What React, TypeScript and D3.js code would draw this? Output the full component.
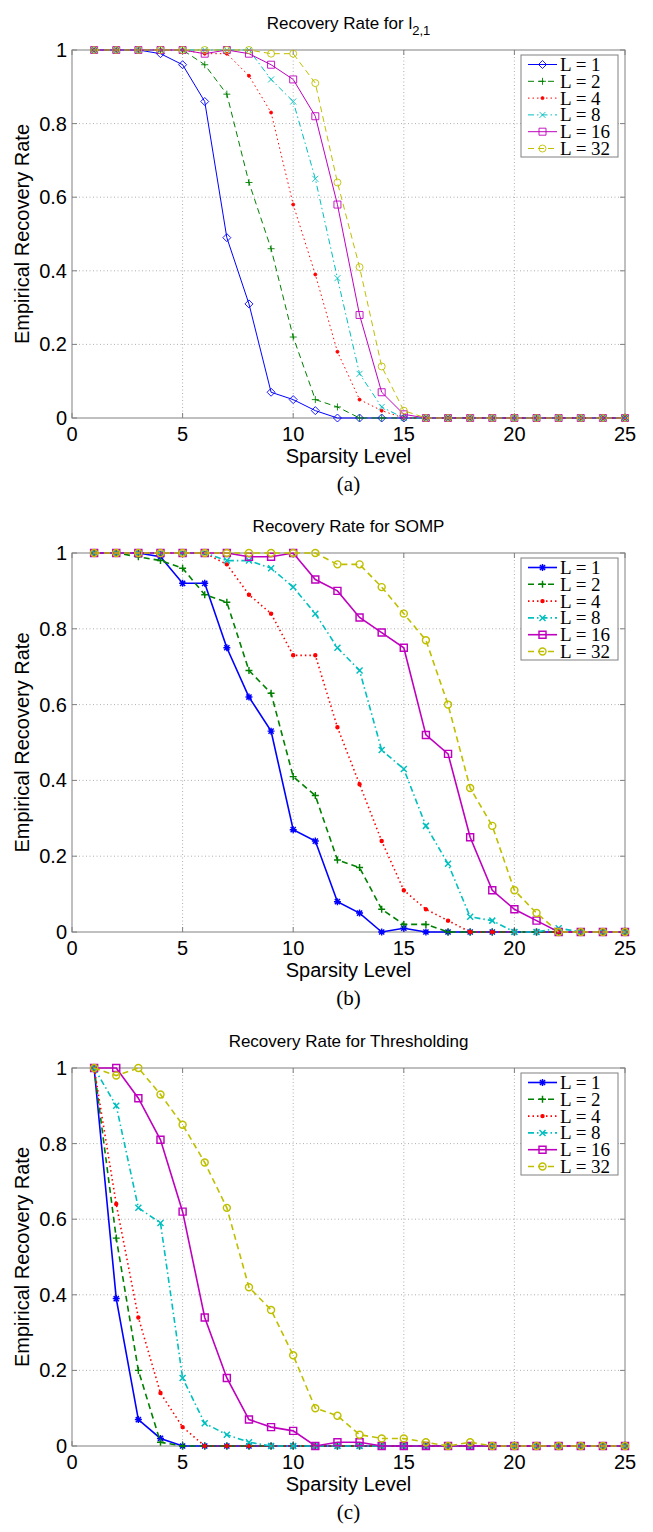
import * as d3 from 'd3';

// sparsity level (x axis) and the six row-count settings
const sparsityLevels = [1, 2, 3, 4, 5, 6, 7, 8, 9, 10, 11, 12, 13, 14, 15, 16, 17, 18, 19, 20, 21, 22, 23, 24, 25];
const legendLabels = ['L = 1', 'L = 2', 'L = 4', 'L = 8', 'L = 16', 'L = 32'];
const xTicks = [0, 5, 10, 15, 20, 25];
const yTicks = [0, 0.2, 0.4, 0.6, 0.8, 1];
const yTickLabels = ['0', '0.2', '0.4', '0.6', '0.8', '1'];

// (a) l2,1
const l21L1 = [1, 1, 1, 0.99, 0.96, 0.86, 0.49, 0.31, 0.07, 0.05, 0.02, 0, 0, 0, 0, 0, 0, 0, 0, 0, 0, 0, 0, 0, 0];
const l21L2 = [1, 1, 1, 1, 1, 0.96, 0.88, 0.64, 0.46, 0.22, 0.05, 0.03, 0, 0, 0, 0, 0, 0, 0, 0, 0, 0, 0, 0, 0];
const l21L4 = [1, 1, 1, 1, 1, 0.99, 0.99, 0.93, 0.83, 0.58, 0.39, 0.18, 0.05, 0.02, 0, 0, 0, 0, 0, 0, 0, 0, 0, 0, 0];
const l21L8 = [1, 1, 1, 1, 1, 1, 1, 1, 0.92, 0.86, 0.65, 0.38, 0.12, 0.03, 0, 0, 0, 0, 0, 0, 0, 0, 0, 0, 0];
const l21L16 = [1, 1, 1, 1, 1, 0.99, 1, 0.99, 0.96, 0.92, 0.82, 0.58, 0.28, 0.07, 0.01, 0, 0, 0, 0, 0, 0, 0, 0, 0, 0];
const l21L32 = [1, 1, 1, 1, 1, 1, 1, 1, 0.99, 0.99, 0.91, 0.64, 0.41, 0.14, 0.02, 0, 0, 0, 0, 0, 0, 0, 0, 0, 0];

// (b) SOMP
const sompL1 = [1, 1, 1, 0.99, 0.92, 0.92, 0.75, 0.62, 0.53, 0.27, 0.24, 0.08, 0.05, 0, 0.01, 0, 0, 0, 0, 0, 0, 0, 0, 0, 0];
const sompL2 = [1, 1, 0.99, 0.98, 0.96, 0.89, 0.87, 0.69, 0.63, 0.41, 0.36, 0.19, 0.17, 0.06, 0.02, 0.02, 0, 0, 0, 0, 0, 0, 0, 0, 0];
const sompL4 = [1, 1, 1, 1, 1, 1, 0.97, 0.89, 0.84, 0.73, 0.73, 0.54, 0.39, 0.24, 0.11, 0.06, 0.03, 0, 0, 0, 0, 0, 0, 0, 0];
const sompL8 = [1, 1, 1, 1, 1, 1, 0.98, 0.98, 0.96, 0.91, 0.84, 0.75, 0.69, 0.48, 0.43, 0.28, 0.18, 0.04, 0.03, 0, 0, 0.01, 0, 0, 0];
const sompL16 = [1, 1, 1, 1, 1, 1, 1, 0.99, 0.99, 1, 0.93, 0.9, 0.83, 0.79, 0.75, 0.52, 0.47, 0.25, 0.11, 0.06, 0.03, 0, 0, 0, 0];
const sompL32 = [1, 1, 1, 1, 1, 1, 1, 1, 1, 1, 1, 0.97, 0.97, 0.91, 0.84, 0.77, 0.6, 0.38, 0.28, 0.11, 0.05, 0, 0, 0, 0];

// (c) Thresholding
const thrL1 = [1, 0.39, 0.07, 0.02, 0, 0, 0, 0, 0, 0, 0, 0, 0, 0, 0, 0, 0, 0, 0, 0, 0, 0, 0, 0, 0];
const thrL2 = [1, 0.55, 0.2, 0.01, 0, 0, 0, 0, 0, 0, 0, 0, 0, 0, 0, 0, 0, 0, 0, 0, 0, 0, 0, 0, 0];
const thrL4 = [1, 0.64, 0.34, 0.14, 0.05, 0, 0, 0, 0, 0, 0, 0, 0, 0, 0, 0, 0, 0, 0, 0, 0, 0, 0, 0, 0];
const thrL8 = [1, 0.9, 0.63, 0.59, 0.18, 0.06, 0.03, 0.01, 0, 0, 0, 0, 0, 0, 0, 0, 0, 0, 0, 0, 0, 0, 0, 0, 0];
const thrL16 = [1, 1, 0.92, 0.81, 0.62, 0.34, 0.18, 0.07, 0.05, 0.04, 0, 0.01, 0.01, 0, 0, 0, 0, 0, 0, 0, 0, 0, 0, 0, 0];
const thrL32 = [1, 0.98, 1, 0.93, 0.85, 0.75, 0.63, 0.42, 0.36, 0.24, 0.1, 0.08, 0.03, 0.02, 0.02, 0.01, 0, 0.01, 0, 0, 0, 0, 0, 0, 0];

const colors = ['#0000ff', '#008000', '#ff0000', '#00bfbf', '#bf00bf', '#bfbf00'];
const dashes = ['none', '6 4', '1.5 3', '6 3 1.5 3', 'none', '6 4'];

const W = 653;
const H = 1532;
const xLeft = 72;
const xRight = 625;

type Shape = 'diamond' | 'star' | 'plus' | 'dot' | 'cross' | 'square' | 'circle';

const markerPath = (shape: Shape, x: number, y: number) => {
  switch (shape) {
    case 'diamond':
      return `M${x},${y - 4}L${x + 4},${y}L${x},${y + 4}L${x - 4},${y}Z`;
    case 'plus':
      return `M${x - 3.5},${y}H${x + 3.5}M${x},${y - 3.5}V${y + 3.5}`;
    case 'cross':
      return `M${x - 3},${y - 3}L${x + 3},${y + 3}M${x + 3},${y - 3}L${x - 3},${y + 3}`;
    case 'star':
      return `M${x - 3.5},${y}H${x + 3.5}M${x},${y - 3.5}V${y + 3.5}M${x - 2.6},${y - 2.6}L${x + 2.6},${y + 2.6}M${x + 2.6},${y - 2.6}L${x - 2.6},${y + 2.6}`;
    case 'square':
      return `M${x - 3.5},${y - 3.5}h7v7h-7Z`;
    case 'circle':
      return `M${x - 3.5},${y}a3.5,3.5 0 1,0 7,0a3.5,3.5 0 1,0 -7,0Z`;
    case 'dot':
      return `M${x - 1.5},${y}a1.5,1.5 0 1,0 3,0a1.5,1.5 0 1,0 -3,0Z`;
  }
};

const panels = [
  {
    key: 'a', title: 'Recovery Rate for l', sub: '2,1', caption: '(a)', top: 50, bottom: 418, width: 1,
    shapes: ['diamond', 'plus', 'dot', 'cross', 'square', 'circle'] as Shape[],
    series: [l21L1, l21L2, l21L4, l21L8, l21L16, l21L32],
  },
  {
    key: 'b', title: 'Recovery Rate for SOMP', sub: '', caption: '(b)', top: 553, bottom: 932, width: 1.6,
    shapes: ['star', 'plus', 'dot', 'cross', 'square', 'circle'] as Shape[],
    series: [sompL1, sompL2, sompL4, sompL8, sompL16, sompL32],
  },
  {
    key: 'c', title: 'Recovery Rate for Thresholding', sub: '', caption: '(c)', top: 1068, bottom: 1446, width: 1.6,
    shapes: ['star', 'plus', 'dot', 'cross', 'square', 'circle'] as Shape[],
    series: [thrL1, thrL2, thrL4, thrL8, thrL16, thrL32],
  },
];

const sans = 'Liberation Sans, Arial, sans-serif';
const serif = 'Liberation Serif, Times New Roman, serif';

const Panel = ({ p }: { p: typeof panels[number] }) => {
  const x = d3.scaleLinear().domain([0, 25]).range([xLeft, xRight]);
  const y = d3.scaleLinear().domain([0, 1]).range([p.bottom, p.top]);
  const line = d3.line<number>().x((_, i) => x(sparsityLevels[i])).y((v) => y(v));
  const midX = (xLeft + xRight) / 2;
  const midY = (p.top + p.bottom) / 2;
  const legX = 521;
  const legTop = p.top + 5;
  const rowH = 16.8;

  return (
    <g>
      <text x={midX} y={p.top - 21} textAnchor="middle" fontFamily={sans} fontSize={17}>
        {p.title}
        {p.sub && <tspan dy={6} fontSize={13}>{p.sub}</tspan>}
      </text>

      {/* grid */}
      {xTicks.slice(1, -1).map((t) => (
        <line key={'gx' + t} x1={x(t)} x2={x(t)} y1={p.top} y2={p.bottom} stroke="#9a9a9a" strokeWidth={0.8} strokeDasharray="1 2.5" />
      ))}
      {yTicks.slice(1, -1).map((t) => (
        <line key={'gy' + t} x1={xLeft} x2={xRight} y1={y(t)} y2={y(t)} stroke="#9a9a9a" strokeWidth={0.8} strokeDasharray="1 2.5" />
      ))}

      {/* ticks inside the box */}
      {xTicks.map((t) => (
        <g key={'tx' + t} stroke="#808080">
          <line x1={x(t)} x2={x(t)} y1={p.bottom} y2={p.bottom - 5} />
          <line x1={x(t)} x2={x(t)} y1={p.top} y2={p.top + 5} />
        </g>
      ))}
      {yTicks.map((t) => (
        <g key={'ty' + t} stroke="#808080">
          <line x1={xLeft} x2={xLeft + 5} y1={y(t)} y2={y(t)} />
          <line x1={xRight} x2={xRight - 5} y1={y(t)} y2={y(t)} />
        </g>
      ))}
      <rect x={xLeft} y={p.top} width={xRight - xLeft} height={p.bottom - p.top} fill="none" stroke="#808080" strokeWidth={1} />

      {/* tick labels */}
      {xTicks.map((t) => (
        <text key={'lx' + t} x={x(t)} y={p.bottom + 23} textAnchor="middle" fontFamily={sans} fontSize={20}>{t}</text>
      ))}
      {yTicks.map((t, i) => (
        <text key={'ly' + t} x={xLeft - 5} y={y(t) + 7} textAnchor="end" fontFamily={sans} fontSize={20}>{yTickLabels[i]}</text>
      ))}

      <text x={midX} y={p.bottom + 45} textAnchor="middle" fontFamily={sans} fontSize={20}>Sparsity Level</text>
      <text transform={`translate(29,${midY}) rotate(-90)`} textAnchor="middle" fontFamily={sans} fontSize={20}>Empirical Recovery Rate</text>
      <text x={midX} y={p.bottom + 73} textAnchor="middle" fontFamily={serif} fontSize={21}>{p.caption}</text>

      {/* series */}
      {p.series.map((vals, s) => (
        <g key={'s' + s} stroke={colors[s]} fill="none" strokeWidth={p.width}>
          <path d={line(vals) ?? ''} strokeDasharray={dashes[s]} />
          {vals.map((v, i) => (
            <path key={i} d={markerPath(p.shapes[s], x(sparsityLevels[i]), y(v))} fill={p.shapes[s] === 'dot' ? colors[s] : 'none'} strokeWidth={p.width * 0.9} />
          ))}
        </g>
      ))}

      {/* legend */}
      <rect x={legX} y={legTop} width={97} height={102} fill="#fff" stroke="#808080" strokeWidth={1} />
      {legendLabels.map((lab, s) => {
        const cy = legTop + 9.5 + s * rowH;
        return (
          <g key={'lg' + s}>
            <line x1={legX + 7} x2={legX + 36} y1={cy} y2={cy} stroke={colors[s]} strokeWidth={p.width} strokeDasharray={dashes[s]} />
            <path d={markerPath(p.shapes[s], legX + 21.5, cy)} stroke={colors[s]} fill={p.shapes[s] === 'dot' ? colors[s] : 'none'} strokeWidth={p.width * 0.9} />
            <text x={legX + 39} y={cy + 6.5} fontFamily={serif} fontSize={19}>{lab}</text>
          </g>
        );
      })}
    </g>
  );
};

export default function App() {
  return (
    <svg width={W} height={H} viewBox={`0 0 ${W} ${H}`} style={{ position: 'absolute', left: 0, top: 0, background: '#fff' }}>
      <rect width={W} height={H} fill="#fff" />
      {panels.map((p) => (
        <Panel key={p.key} p={p} />
      ))}
    </svg>
  );
}
